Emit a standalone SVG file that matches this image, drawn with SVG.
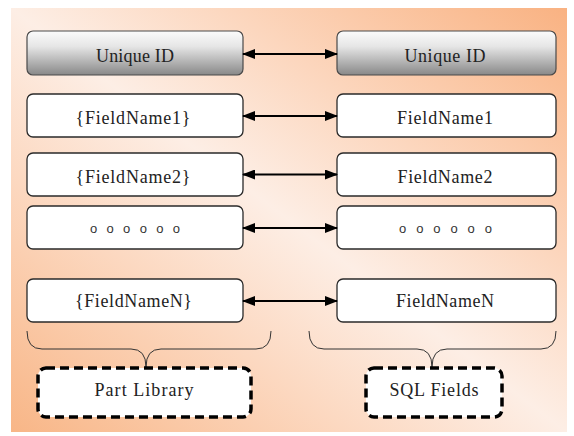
<svg xmlns="http://www.w3.org/2000/svg" width="574" height="436" viewBox="0 0 574 436">
  <defs>
    <!-- panel background: warm orange toward two corners, pale along the diagonal -->
    <linearGradient id="panelFill" x1="1" y1="0" x2="0" y2="1">
      <stop offset="0" stop-color="#f9b282"/>
      <stop offset="0.3" stop-color="#fcd6bd"/>
      <stop offset="0.5" stop-color="#fdeee5"/>
      <stop offset="0.7" stop-color="#fcd8c0"/>
      <stop offset="1" stop-color="#f8b687"/>
    </linearGradient>
    <!-- key row: metallic grey bar -->
    <linearGradient id="keyFill" x1="0" y1="0" x2="0" y2="1">
      <stop offset="0" stop-color="#fbfbfb"/>
      <stop offset="0.35" stop-color="#e6e6e6"/>
      <stop offset="1" stop-color="#888888"/>
    </linearGradient>
    <marker id="arrowHead" viewBox="0 0 13 10" refX="12" refY="5" markerWidth="13" markerHeight="10" markerUnits="userSpaceOnUse" orient="auto-start-reverse">
      <path d="M0,0 L13,5 L0,10 z" fill="#000"/>
    </marker>
    <style>
      .key { fill: url(#keyFill); stroke: #4a4a4a; stroke-width: 1.2; }
      .field { fill: #ffffff; stroke: #2a2a2a; stroke-width: 1.3; }
      .group { fill: #ffffff; stroke: #000; stroke-width: 3.5; stroke-dasharray: 9 5; }
      .label { font-family: "Liberation Serif", "Times New Roman", serif; font-size: 18px; fill: #222; text-anchor: middle; }
      .dots { font-family: "Liberation Sans", Arial, sans-serif; font-size: 13px; fill: #333; text-anchor: middle; }
      .link { stroke: #000; stroke-width: 2.2; fill: none; marker-start: url(#arrowHead); marker-end: url(#arrowHead); }
      .brace { stroke: #333; stroke-width: 1; fill: none; }
    </style>
  </defs>

  <rect x="11" y="8" width="556" height="424" fill="url(#panelFill)"/>

  <!-- library side -->
  <g id="lib-uniqueid">
    <rect class="key" x="27" y="31" width="216" height="44" rx="6"/>
    <text class="label" x="135" y="61.5" textLength="78" lengthAdjust="spacing">Unique ID</text>
  </g>
  <g id="lib-field1">
    <rect class="field" x="27" y="94" width="216" height="43" rx="6"/>
    <text class="label" x="133" y="123.5" textLength="115" lengthAdjust="spacing">{FieldName1}</text>
  </g>
  <g id="lib-field2">
    <rect class="field" x="27" y="153" width="216" height="43" rx="6"/>
    <text class="label" x="133" y="182.5" textLength="115" lengthAdjust="spacing">{FieldName2}</text>
  </g>
  <g id="lib-more">
    <rect class="field" x="27" y="206" width="216" height="43" rx="6"/>
    <text class="dots" x="135" y="233" textLength="90" lengthAdjust="spacing">o o o o o o</text>
  </g>
  <g id="lib-fieldN">
    <rect class="field" x="27" y="279" width="216" height="43" rx="6"/>
    <text class="label" x="133.5" y="307" textLength="117" lengthAdjust="spacing">{FieldNameN}</text>
  </g>

  <!-- SQL side -->
  <g id="sql-uniqueid">
    <rect class="key" x="337" y="31" width="219" height="44" rx="6"/>
    <text class="label" x="445" y="61.5" textLength="81" lengthAdjust="spacing">Unique ID</text>
  </g>
  <g id="sql-field1">
    <rect class="field" x="337" y="94" width="219" height="43" rx="6"/>
    <text class="label" x="445" y="123.5" textLength="96" lengthAdjust="spacing">FieldName1</text>
  </g>
  <g id="sql-field2">
    <rect class="field" x="337" y="153" width="219" height="43" rx="6"/>
    <text class="label" x="445" y="182.5" textLength="95" lengthAdjust="spacing">FieldName2</text>
  </g>
  <g id="sql-more">
    <rect class="field" x="337" y="206" width="219" height="43" rx="6"/>
    <text class="dots" x="445.5" y="233" textLength="93" lengthAdjust="spacing">o o o o o o</text>
  </g>
  <g id="sql-fieldN">
    <rect class="field" x="337" y="279" width="219" height="43" rx="6"/>
    <text class="label" x="445" y="307" textLength="98" lengthAdjust="spacing">FieldNameN</text>
  </g>

  <!-- grouping braces and their captions -->
  <g id="lib-group">
    <path class="brace" d="M27,331 Q27,349 42,349 L131,349 Q146,349 146,367 Q146,349 161,349 L256,349 Q271,349 271,331"/>
    <rect class="group" x="38" y="368" width="213" height="49" rx="8"/>
    <text class="label" x="144" y="396" textLength="99" lengthAdjust="spacing">Part Library</text>
  </g>
  <g id="sql-group">
    <path class="brace" d="M309,331 Q309,349 324,349 L417,349 Q432,349 432,367 Q432,349 447,349 L541,349 Q556,349 556,331"/>
    <rect class="group" x="366" y="368" width="136" height="49" rx="8"/>
    <text class="label" x="434" y="396" textLength="89" lengthAdjust="spacing">SQL Fields</text>
  </g>

  <!-- field mappings -->
  <g id="connectors">
    <line class="link" x1="243" y1="54" x2="337" y2="54"/>
    <line class="link" x1="243" y1="116" x2="337" y2="116"/>
    <line class="link" x1="243" y1="174.5" x2="337" y2="174.5"/>
    <line class="link" x1="243" y1="228" x2="337" y2="228"/>
    <line class="link" x1="243" y1="301" x2="337" y2="301"/>
  </g>
</svg>
